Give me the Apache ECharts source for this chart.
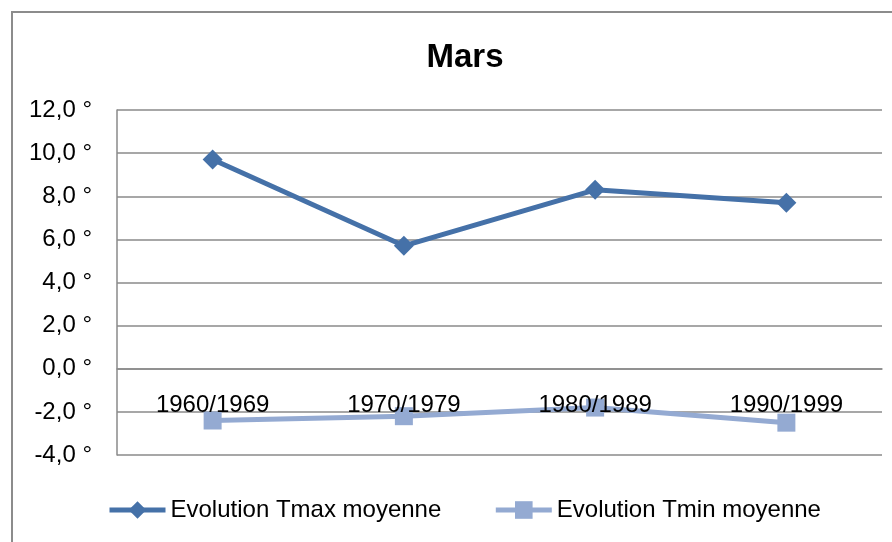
<!DOCTYPE html>
<html>
<head>
<meta charset="utf-8">
<script src="https://cdn.jsdelivr.net/npm/echarts@6/dist/echarts.min.js"></script>
<style>
  html, body { margin: 0; padding: 0; background: #fff; }
  #chart { width: 892px; height: 542px; }
</style>
</head>
<body>
<div id="chart"></div>
<script>
// Decades on the category axis
const decades = ['1960/1969', '1970/1979', '1980/1989', '1990/1999'];
// Mean March temperatures (°C) per decade
const tmaxMoyenne = [9.7, 5.7, 8.3, 7.7];
const tminMoyenne = [-2.4, -2.2, -1.8, -2.5];
const seriesNames = ['Evolution Tmax moyenne', 'Evolution Tmin moyenne'];

const FONT = '"Liberation Sans", Arial, sans-serif';
const GRID_GREY = '#8a8a8a';
const TMAX_BLUE = '#4571a8';
const TMIN_BLUE = '#94aad2';

const Y_MIN = -4, Y_MAX = 12;
const GRID_TOP = 110, GRID_BOTTOM = 87;
const PLOT_H = 542 - GRID_TOP - GRID_BOTTOM;
// the category axis crosses the value axis at 0
const zeroOffset = -PLOT_H * (0 - Y_MIN) / (Y_MAX - Y_MIN);

const chart = echarts.init(document.getElementById('chart'), null, { renderer: 'canvas' });

chart.setOption({
  backgroundColor: '#ffffff',
  animation: false,
  title: {
    text: 'Mars',
    left: 460,
    top: 36,
    textAlign: 'center',
    textStyle: { fontFamily: FONT, fontSize: 33, fontWeight: 'bold', color: '#000' }
  },
  graphic: [{
    type: 'rect',
    shape: { x: 12, y: 12, width: 1000, height: 1000 },
    style: { fill: 'none', stroke: '#8c8c8c', lineWidth: 2 },
    silent: true
  }],
  legend: {
    left: 102,
    top: 493,
    itemWidth: 56,
    itemHeight: 22,
    itemGap: 52,
    textStyle: { fontFamily: FONT, fontSize: 24, color: '#000' },
    data: [
      { name: seriesNames[0], lineStyle: { color: TMAX_BLUE, width: 5 } },
      { name: seriesNames[1], lineStyle: { color: TMIN_BLUE, width: 5 } }
    ]
  },
  grid: { left: 117, right: 10, top: GRID_TOP, bottom: GRID_BOTTOM, containLabel: false },
  xAxis: {
    type: 'category',
    data: decades,
    boundaryGap: true,
    offset: zeroOffset,
    z: 10,
    axisLine: { onZero: false, lineStyle: { color: GRID_GREY, width: 1.5 } },
    axisTick: { show: false },
    axisLabel: {
      margin: 25,
      fontFamily: FONT, fontSize: 24, color: '#000'
    }
  },
  yAxis: {
    type: 'value',
    min: Y_MIN,
    max: Y_MAX,
    interval: 2,
    axisLine: { show: true, lineStyle: { color: GRID_GREY, width: 1.5 } },
    axisTick: { show: false },
    splitLine: { lineStyle: { color: GRID_GREY, width: 1.5 } },
    axisLabel: {
      margin: 25,
      fontFamily: FONT, fontSize: 24, color: '#000',
      formatter: v => v.toFixed(1).replace('.', ',') + ' \u00b0'
    }
  },
  series: [
    {
      name: seriesNames[0],
      type: 'line',
      data: tmaxMoyenne,
      symbol: 'diamond',
      symbolSize: 20,
      lineStyle: { color: TMAX_BLUE, width: 5 },
      itemStyle: { color: TMAX_BLUE },
      z: 3
    },
    {
      name: seriesNames[1],
      type: 'line',
      data: tminMoyenne,
      symbol: 'rect',
      symbolSize: 18,
      lineStyle: { color: TMIN_BLUE, width: 5 },
      itemStyle: { color: TMIN_BLUE },
      z: 2
    }
  ]
});
</script>
</body>
</html>
